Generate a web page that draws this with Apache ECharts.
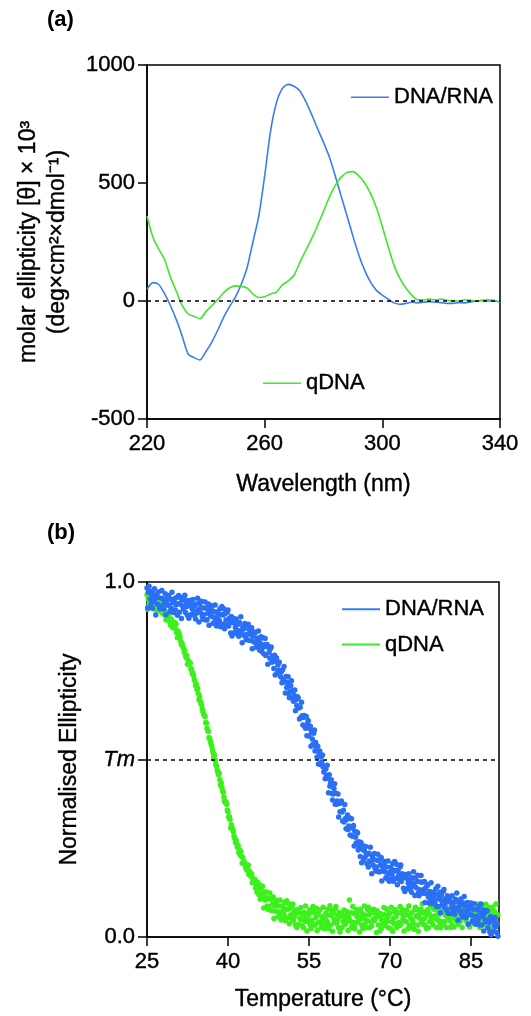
<!DOCTYPE html>
<html>
<head>
<meta charset="utf-8">
<script src="https://cdn.jsdelivr.net/npm/echarts@6/dist/echarts.min.js"></script>
<style>
  html, body { margin: 0; padding: 0; background: #fff; }
  #chart { width: 531px; height: 1016px; }
</style>
</head>
<body>
<div id="chart"></div>
<script>
// ---- (a) CD spectra: molar ellipticity vs wavelength ----
const wavelength = [
  220, 222, 224, 226, 228, 230, 232, 234, 236, 238,
  240, 242, 244, 246, 248, 250, 252, 254, 256, 258,
  260, 262, 264, 266, 268, 270, 272, 274, 276, 278,
  280, 282, 284, 286, 288, 290, 292, 294, 296, 298,
  300, 302, 304, 306, 308, 310, 312, 314, 316, 318,
  320, 322, 324, 326, 328, 330, 332, 334, 336, 338, 340
];
const cdHybrid = [
  50, 78, 70, 30, -20, -80, -150, -225, -240, -250,
  -215, -175, -125, -70, -25, 15, 70, 140, 250, 360,
  530, 720, 840, 900, 918, 910, 890, 845, 790, 730,
  672, 610, 530, 445, 360, 275, 195, 130, 80, 45,
  25, 8, -8, -14, -10, -5, -8, -5, -3, -5,
  -7, -10, -10, -7, -8, -4, 0, 2, 0, 0, -5
];
const cdQuad = [
  360, 270, 220, 175, 100, 40, -20, -55, -65, -75,
  -45, -20, 5, 35, 55, 64, 62, 55, 30, 15,
  18, 30, 38, 68, 85, 110, 165, 215, 265, 320,
  380, 440, 490, 525, 545, 548, 530, 500, 455, 395,
  315, 230, 150, 95, 55, 25, 5, 5, 8, 5,
  8, 3, 0, 0, 5, 3, 0, 3, 5, 3, -5
];
const wavelengthTicks = [220, 260, 300, 340];
const ellipticityTicks = [-500, 0, 500, 1000];

// ---- (b) thermal melts: normalised ellipticity in per-mille,
//      one reading every 0.125 °C from 25 °C (one row per degree) ----
const tempStart = 25;
const tempStep = 0.125;
const meltHybridPm = [
  983, 927, 971, 988, 975, 952, 939, 964,   // 25
  926, 968, 945, 981, 953, 907, 962, 938,
  957, 972, 934, 925, 931, 954, 976, 928,
  953, 924, 942, 967, 908, 946, 935, 958,
  962, 933, 917, 952, 926, 971, 943, 914,
  944, 953, 921, 936, 957, 906, 939, 962,   // 30
  915, 938, 955, 897, 949, 932, 924, 953,
  963, 914, 943, 931, 906, 947, 898, 936,
  948, 908, 937, 925, 951, 919, 906, 934,
  896, 938, 913, 954, 922, 887, 941, 915,
  929, 946, 903, 895, 908, 927, 944, 893,   // 35
  926, 894, 912, 938, 878, 917, 905, 928,
  933, 902, 884, 917, 886, 935, 897, 876,
  904, 916, 883, 892, 925, 874, 908, 931,
  882, 907, 924, 868, 911, 893, 879, 915,
  921, 876, 898, 887, 856, 903, 848, 886,   // 40
  897, 857, 884, 872, 896, 864, 853, 881,
  847, 886, 863, 902, 858, 829, 874, 851,
  868, 883, 846, 837, 852, 874, 881, 836,
  864, 835, 853, 871, 812, 847, 832, 859,
  857, 828, 816, 842, 818, 862, 834, 808,   // 45
  827, 846, 804, 815, 843, 798, 823, 841,
  793, 818, 824, 768, 816, 802, 785, 813,
  817, 774, 791, 783, 756, 794, 738, 776,
  786, 743, 767, 752, 774, 748, 733, 747,
  716, 753, 724, 762, 718, 687, 734, 703,   // 50
  717, 733, 686, 674, 693, 708, 722, 673,
  694, 664, 681, 696, 637, 668, 652, 677,
  673, 645, 614, 647, 618, 661, 623, 597,
  618, 624, 593, 588, 621, 567, 602, 609,
  566, 587, 594, 537, 578, 558, 543, 574,   // 55
  583, 524, 548, 533, 506, 537, 487, 518,
  524, 486, 507, 492, 513, 479, 465, 481,
  446, 473, 455, 484, 447, 406, 457, 425,
  434, 443, 404, 386, 403, 418, 432, 374,
  405, 374, 383, 403, 338, 376, 353, 378,   // 60
  383, 352, 327, 357, 324, 373, 334, 305,
  331, 344, 303, 313, 336, 287, 309, 333,
  284, 306, 314, 256, 297, 281, 265, 296,
  293, 245, 268, 254, 227, 266, 209, 248,
  257, 216, 243, 224, 255, 232, 206, 234,   // 65
  197, 236, 214, 253, 212, 178, 227, 203,
  218, 235, 194, 186, 197, 216, 233, 184,
  216, 184, 203, 224, 158, 198, 186, 207,
  213, 183, 167, 197, 164, 214, 179, 157,
  182, 196, 164, 176, 207, 157, 188, 213,   // 70
  165, 186, 204, 147, 187, 173, 162, 197,
  203, 156, 178, 169, 137, 176, 128, 167,
  176, 136, 165, 152, 178, 148, 134, 158,
  126, 167, 143, 184, 151, 117, 166, 139,
  157, 174, 124, 116, 133, 155, 173, 127,   // 75
  154, 123, 134, 156,  97, 138, 122, 148,
  146, 113,  96, 128, 104, 153, 119,  94,
  113, 127,  94, 103, 136,  86, 118, 143,
   86, 108, 126,  68, 117, 101,  93, 128,
  134,  84, 107,  98,  76, 116,  67, 105,   // 80
  108,  66,  97,  83, 116,  89,  74,  98,
   64, 106,  82, 124,  79,  47,  97,  73,
   88, 107,  64,  56,  73,  96, 114,  63,
   87,  54,  72,  97,  36,  78,  63,  86,
   96,  62,  45,  78,  43,  94,  58,  36,   // 85
   58,  77,  43,  52,  86,  34,  68,  93,
   34,  58,  76,  17,  67,  49,  42,  74,
   73,  26,  48,  41,  14,  57,   6,  47,
   56,  17,  46,  32,  54,  29,  13,  38,
    2                                       // 90
];
const meltQuadPm = [
  964, 923, 951, 938, 972, 947, 931, 956,   // 25
  943, 957, 948, 963, 936, 921, 952, 939,
  938, 946, 927, 918, 933, 941, 947, 912,
  926, 912, 908, 917, 893, 906, 898, 904,
  907, 893, 886, 878, 896, 884, 872, 881,
  873, 886, 868, 882, 857, 843, 862, 848,   // 30
  853, 844, 832, 823, 827, 819, 814, 803,
  806, 794, 787, 792, 768, 779, 771, 774,
  771, 756, 753, 742, 744, 736, 724, 722,
  708, 712, 697, 701, 686, 668, 677, 664,
  657, 653, 642, 634, 628, 624, 621, 604,   // 35
  603, 588, 582, 579, 562, 558, 551, 543,
  538, 527, 519, 507, 513, 498, 486, 482,
  471, 464, 457, 462, 443, 428, 434, 421,
  412, 407, 394, 383, 379, 381, 374, 358,
  353, 338, 339, 331, 307, 316, 308, 302,   // 40
  296, 284, 278, 266, 272, 261, 253, 257,
  238, 246, 232, 241, 227, 208, 224, 212,
  211, 207, 196, 193, 188, 198, 203, 176,
  186, 174, 171, 178, 153, 164, 161, 158,
  163, 137, 146, 126, 154, 133, 118, 147,   // 45
  106, 138, 122, 143, 113,  82, 127, 104,
  112, 127,  87,  78,  86, 108, 124,  76,
  106,  74,  92, 113,  52,  88,  73,  98,
  103,  72,  56,  87,  58, 104,  69,  48,
   72,  86,  53,  64,  97,  46,  78, 102,   // 50
   54,  78,  94,  37,  81,  63,  52,  86,
   93,  46,  71,  58,  34,  76,  27,  68,
   77,  36,  68,  52,  83,  49,  31,  64,
   26,  69,  44,  87,  53,  17,  66,  43,
   63,  77,  34,  24,  47,  72,  86,  36,   // 55
   68,  33,  54,  81,  18,  62,  41,  73,
   76,  43,  26,  58,  34,  84,  49,  23,
   52,  67,  36,  44,  78,  24,  61,  88,
   34,  62,  76,  16,  68,  51,  43,  79,
   86,  37,  62,  48,  26,  69,  14,  57,   // 60
   67,  27,  58,  42,  76,  53,  36,  61,
   43,  71,  18,  54, 104,  46,  68,  26,
   33,  86,  67,  41,  23,  37,  77,  58,
   71,  44,  57,  14,  78,  52,  34,  66,
   24,  53,  87,  36,  61,  27,  46,  77,   // 65
   84,  63,  26,  76,  42,  31,  68,  49,
   78,  46,  53,  67,  13,  74,  57,  34,
   58,  17,  66,  23,  47,  62,  36,  83,
   63,  32,  48,  79,  44,  56,  26,  68,
   66,  24,  84,  43,  16,  52,  38,  71,   // 70
   77,  58,  27,  34,  68,  41,  32,  86,
   36,  67,  78,  49,  57,  17,  71,  44,
   43,  76,  62,  24,  87,  33,  26,  53,
   68,  47,  42,  36,  22,  77,  84,  58,
   61,  34,  16,  76,  53,  67,  79,  43,   // 75
   94,  36,  68,  52,  34,  71,  24,  63,
   77,  26,  66,  43,  86,  54,  42,  58,
   34,  78,  52,  93,  61,  26,  76,  47,
   62,  76,  37,  26,  44,  68,  84,  36,
   77,  43,  61,  86,  27,  66,  53,  74,   // 80
   76,  46,  27,  63,  34,  83,  54,  28,
   63,  77,  46,  54,  84,  36,  68,  93,
   44,  68,  84,  27,  76,  62,  53,  83,
   94,  46,  67,  62,  36,  77,  28,  68,
   76,  37,  68,  54,  84,  57,  46,  72,   // 85
   36,  76,  53,  93,  62,  27,  78,  48,
   68,  84,  43,  34,  54,  76,  92,  47,
   77,  44,  62,  84,  27,  68,  53,  76,
   84,  53,  36,  72,  46,  93,  62,  37,
   62                                       // 90
];
const temperatureTicks = [25, 40, 55, 70, 85];
const normTicks = [0, 0.5, 1];
const TM_LEVEL = 0.5;

const seriesNames = ['DNA/RNA', 'qDNA'];

// ---- styling ----
const FONT = '"Liberation Sans", Arial, Helvetica, sans-serif';
const INK = '#000';
const BLUE_LINE = '#3b7cf2';
const GREEN_LINE = '#3fe82b';
const BLUE_DOT = '#2a6ff5';
const GREEN_DOT = '#3cf01c';
// slightly heavier strokes on all lettering
const txt = { fontFamily: FONT, fontSize: 22, color: INK, textBorderColor: INK, textBorderWidth: 0.4 };
const titleTxt = Object.assign({}, txt, { fontSize: 23 });

const cdPairs = (vals) => wavelength.map((w, i) => [w, vals[i]]);
const meltPairs = (pm) => pm.map((v, i) => [tempStart + i * tempStep, v / 1000]);

const axisLine = { show: true, onZero: false, lineStyle: { color: INK, width: 1.5 } };
const tick = (vals) => ({ show: true, inside: false, length: 9, customValues: vals, lineStyle: { color: INK, width: 1.5 } });

const dashed = (level) => ({
  silent: true,
  symbol: ['none', 'none'],
  label: { show: false },
  lineStyle: { color: INK, width: 1.5, type: [4, 4] },
  emphasis: { disabled: true },
  data: [{ yAxis: level }]
});

const chart = echarts.init(document.getElementById('chart'), null, { renderer: 'canvas' });

chart.setOption({
  animation: false,
  backgroundColor: '#fff',
  title: [
    { text: '(a)', left: 47, top: 9, padding: 0, textStyle: { fontFamily: FONT, fontSize: 22, fontWeight: 'bold', color: INK } },
    { text: '(b)', left: 47, top: 522, padding: 0, textStyle: { fontFamily: FONT, fontSize: 22, fontWeight: 'bold', color: INK } }
  ],
  grid: [
    { left: 147, top: 65, width: 353, height: 354, show: true, borderColor: INK, borderWidth: 1.5, containLabel: false },
    { left: 147, top: 582, width: 352, height: 355, show: true, borderColor: INK, borderWidth: 1.5, containLabel: false }
  ],
  legend: [
    { data: [seriesNames[0]], left: 351, top: 86, padding: 0, icon: 'rect', itemWidth: 38, itemHeight: 1.5, textStyle: txt },
    { data: [seriesNames[1]], left: 263, top: 372, padding: 0, icon: 'rect', itemWidth: 38, itemHeight: 1.5, textStyle: txt },
    { data: seriesNames, left: 342, top: 598, padding: 0, orient: 'vertical', itemGap: 13, icon: 'rect', itemWidth: 38, itemHeight: 2, textStyle: txt }
  ],
  xAxis: [
    {
      gridIndex: 0, type: 'value', min: 220, max: 340,
      axisLine, axisTick: tick(wavelengthTicks),
      axisLabel: Object.assign({ customValues: wavelengthTicks, margin: 14, formatter: (v) => String(v) }, txt),
      splitLine: { show: false },
      name: 'Wavelength (nm)', nameLocation: 'middle', nameGap: 54, nameTextStyle: titleTxt
    },
    {
      gridIndex: 1, type: 'value', min: 25, max: 90.2,
      axisLine, axisTick: tick(temperatureTicks),
      axisLabel: Object.assign({ customValues: temperatureTicks, margin: 14, formatter: (v) => String(v) }, txt),
      splitLine: { show: false },
      name: 'Temperature (°C)', nameLocation: 'middle', nameGap: 51, nameTextStyle: titleTxt
    }
  ],
  yAxis: [
    {
      gridIndex: 0, type: 'value', min: -500, max: 1000,
      axisLine, axisTick: tick(ellipticityTicks),
      axisLabel: Object.assign({ customValues: ellipticityTicks, margin: 12, formatter: (v) => String(v) }, txt),
      splitLine: { show: false },
      name: 'molar ellipticity [θ] × 10³\n(deg×cm²×dmol⁻¹)',
      nameLocation: 'middle', nameRotate: 90, nameGap: 75,
      nameTextStyle: Object.assign({ lineHeight: 29, align: 'center' }, titleTxt)
    },
    {
      gridIndex: 1, type: 'value', min: 0, max: 1,
      axisLine, axisTick: tick(normTicks),
      axisLabel: Object.assign({
        customValues: normTicks, margin: 12,
        formatter: (v) => v === TM_LEVEL ? '{tm|Tm}' : v.toFixed(1),
        rich: { tm: { fontFamily: FONT, fontSize: 22, fontStyle: 'italic', color: INK, textBorderColor: INK, textBorderWidth: 0.4 } }
      }, txt),
      splitLine: { show: false },
      name: 'Normalised Ellipticity', nameLocation: 'middle', nameRotate: 90, nameGap: 66,
      nameTextStyle: titleTxt
    }
  ],
  series: [
    {
      name: seriesNames[0], type: 'line', xAxisIndex: 0, yAxisIndex: 0,
      data: cdPairs(cdHybrid), showSymbol: false, smooth: 0.25,
      color: BLUE_LINE, lineStyle: { width: 1.6, color: BLUE_LINE },
      markLine: dashed(0), z: 3
    },
    {
      name: seriesNames[1], type: 'line', xAxisIndex: 0, yAxisIndex: 0,
      data: cdPairs(cdQuad), showSymbol: false, smooth: 0.25,
      color: GREEN_LINE, lineStyle: { width: 1.6, color: GREEN_LINE }, z: 3
    },
    {
      name: seriesNames[1], type: 'scatter', xAxisIndex: 1, yAxisIndex: 1,
      data: meltPairs(meltQuadPm), symbolSize: 5.5,
      color: GREEN_DOT, itemStyle: { color: GREEN_DOT, opacity: 1 },
      markLine: dashed(TM_LEVEL), z: 2
    },
    {
      name: seriesNames[0], type: 'scatter', xAxisIndex: 1, yAxisIndex: 1,
      data: meltPairs(meltHybridPm), symbolSize: 5.5,
      color: BLUE_DOT, itemStyle: { color: BLUE_DOT, opacity: 1 }, z: 3
    }
  ]
});
</script>
</body>
</html>
